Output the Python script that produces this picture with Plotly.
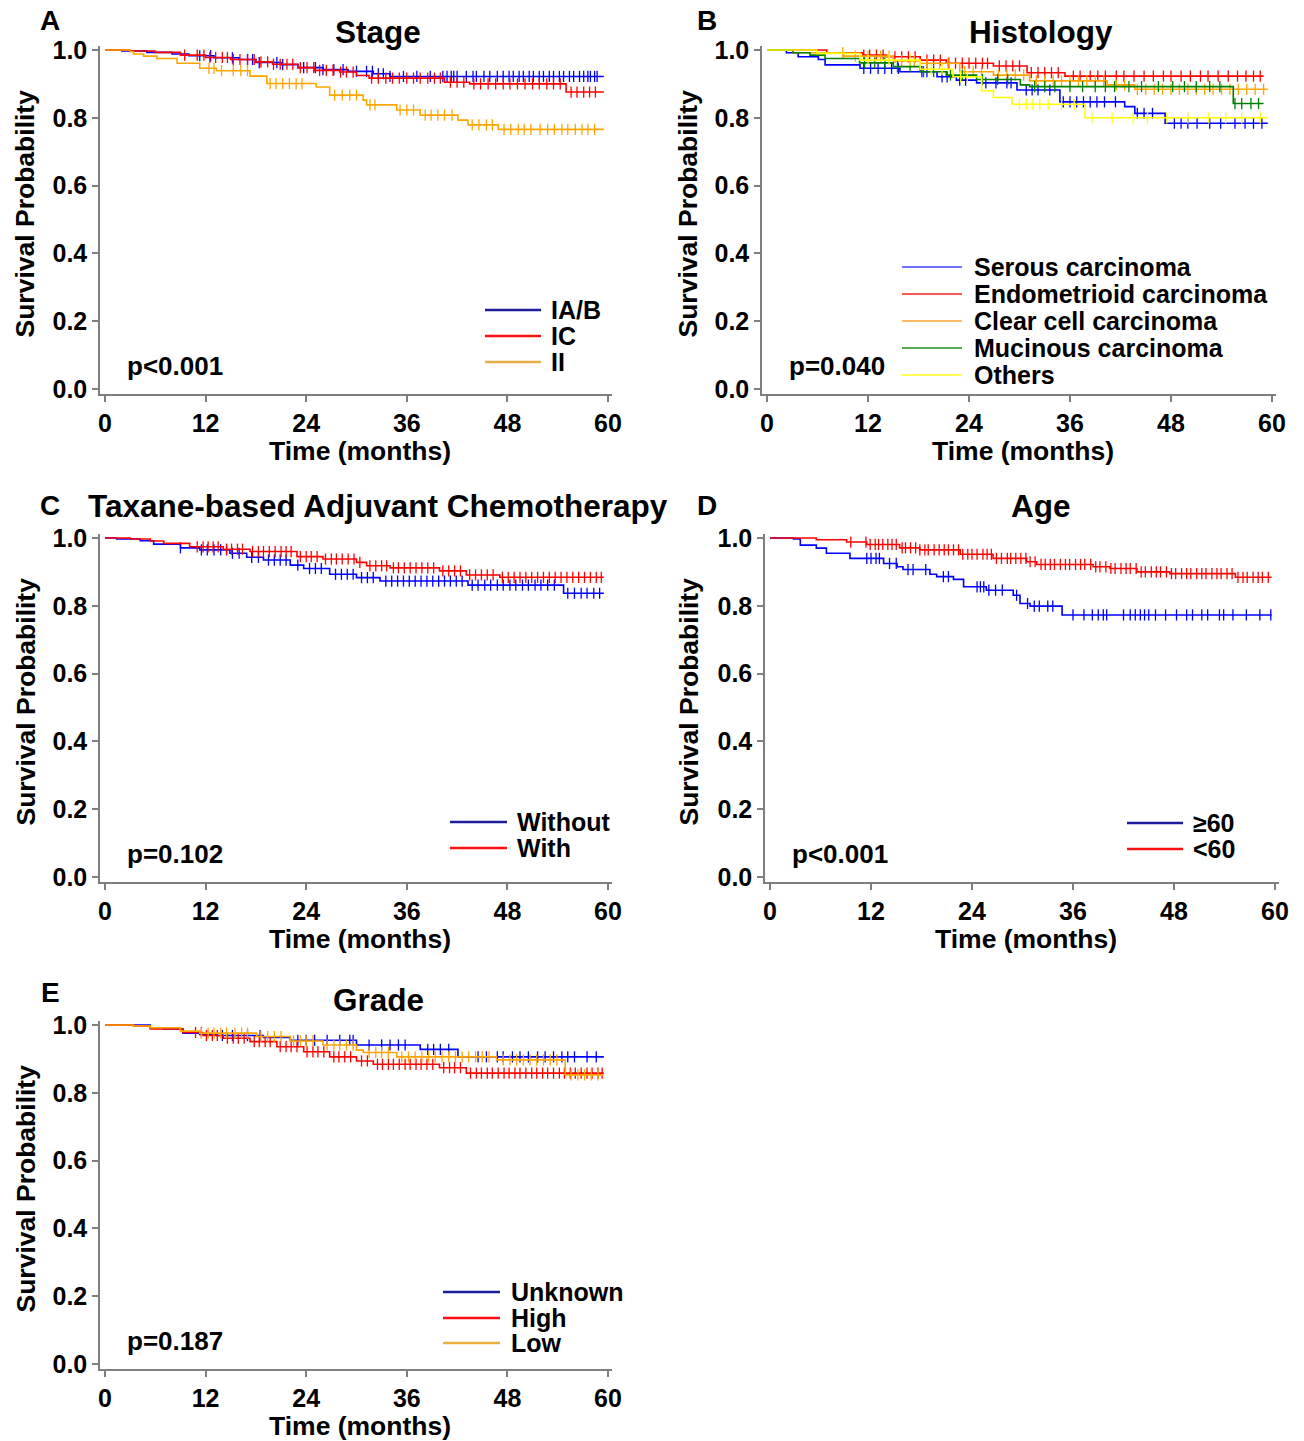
import bisect
import plotly.graph_objects as go

W, H = 1304, 1441

# ---------------- DATA ----------------
# Panel A: Stage
A_iab_t = [0, 2, 5, 8, 10, 13, 16, 18, 21, 23, 26, 29, 32, 34, 59.5]
A_iab_s = [1, .997, .993, .988, .983, .977, .972, .963, .957, .948, .942, .937, .930, .922, .922]
A_iab_c = [11.3, 12.6, 15.2, 17.0, 17.6, 18.4, 20.5, 21.2, 23.7, 25.1, 26.0, 27.3, 28.4, 30.0, 31.2, 31.9,
           32.6, 33.2, 34.0, 35.6, 37.2, 38.8, 40.3, 40.8, 41.3, 41.6, 42.0, 43.1, 43.9, 44.3, 45.2, 45.9,
           46.8, 47.5, 48.2, 48.7, 49.4, 49.9, 50.6, 51.1, 51.8, 52.3, 53.0, 53.5, 54.2, 54.7, 55.4, 55.9,
           56.6, 57.1, 57.6, 57.9, 58.4, 58.7]
A_ic_t = [0, 3, 6, 9, 12, 15, 18, 20, 23, 25, 28, 30, 31.5, 40.5, 43.5, 55, 59.5]
A_ic_s = [1, .997, .993, .985, .978, .972, .965, .958, .948, .940, .935, .925, .917, .905, .900, .876, .876]
A_ic_c = [9.5, 11.0, 11.8, 12.5, 13.2, 14.0, 14.6, 15.3, 16.1, 17.0, 17.8, 18.6, 19.4, 20.1, 20.9, 21.7,
          22.4, 23.3, 24.1, 24.9, 25.6, 26.4, 27.2, 28.1, 28.8, 29.6, 31.8, 32.6, 33.5, 34.3, 35.1, 36.0,
          36.8, 37.6, 38.5, 39.3, 40.0, 41.2, 42.0, 42.8, 44.0, 44.8, 45.7, 46.6, 47.5, 48.3, 49.2, 50.1,
          51.0, 51.8, 52.7, 53.5, 54.3, 55.6, 56.3, 57.1, 57.8, 58.5]
A_ii_t = [0, 3.0, 3.4, 4.6, 6.2, 8.6, 11.3, 13.3, 17.3, 19.3, 25.2, 26.8, 30.8, 31.2, 34.8, 37.6, 42.1, 43.3, 46.9, 59.5]
A_ii_s = [1, .995, .988, .982, .975, .961, .946, .939, .923, .901, .891, .867, .852, .838, .823, .808, .793, .779, .766, .766]
A_ii_c = [12.4, 13.0, 13.9, 15.3, 16.2, 17.0, 19.7, 20.4, 21.2, 22.0, 22.8, 23.5, 27.4, 28.3, 29.2, 30.0,
          31.6, 32.2, 35.2, 36.0, 36.8, 38.2, 38.9, 39.7, 40.5, 41.4, 43.8, 44.6, 45.5, 46.2, 47.6, 48.4,
          49.3, 50.0, 50.8, 51.9, 52.8, 53.6, 54.5, 55.2, 56.1, 56.9, 57.6, 58.4]

# Panel B: Histology
B_ser_t = [0, 2.3, 3.7, 6.1, 6.9, 11.05, 15.8, 20.2, 22.5, 24.9, 29.7, 34.8, 42.5, 43.7, 47.3, 59.5]
B_ser_s = [1, .992, .980, .972, .956, .946, .936, .921, .911, .903, .882, .847, .833, .813, .784, .784]
B_ser_c = [11.5, 12.3, 13.2, 14.0, 14.8, 15.6, 18.4, 19.0, 20.8, 21.4, 22.9, 23.6, 26.0, 27.2, 28.5, 29.0,
           30.8, 31.5, 32.2, 33.6, 35.2, 36.0, 36.8, 37.6, 38.4, 39.2, 40.1, 41.4, 44.0, 44.8, 45.8, 48.4,
           49.2, 50.0, 51.1, 52.6, 53.9, 55.6, 56.8, 57.8, 58.8]
B_endo_t = [0, 7.1, 11.4, 14.2, 18.2, 21.3, 26.9, 30.9, 35.4, 59]
B_endo_s = [1, .992, .985, .980, .970, .961, .953, .933, .923, .923]
B_endo_c = [11.5, 12.2, 13.0, 13.8, 15.2, 16.0, 16.8, 17.6, 19.0, 19.8, 20.6, 21.6, 22.4, 23.2, 24.0, 24.8,
            25.6, 26.2, 27.6, 28.4, 29.2, 30.0, 31.4, 32.2, 33.0, 33.8, 34.6, 36.4, 37.2, 38.4, 39.3, 40.2,
            41.5, 42.4, 43.6, 44.8, 45.9, 47.1, 48.0, 49.2, 50.3, 51.5, 52.4, 53.6, 54.8, 55.9, 56.9, 57.8, 58.6]
B_clear_t = [0, 3.1, 9.1, 15.0, 18.2, 22.9, 26.9, 31.2, 40.4, 43.7, 59.5]
B_clear_s = [1, .992, .982, .968, .961, .936, .926, .909, .897, .884, .884]
B_clear_c = [9.0, 10.5, 12.0, 13.5, 14.5, 16.0, 17.5, 19.0, 20.5, 21.5, 23.5, 24.5, 25.5, 27.5, 28.5, 29.5,
             30.5, 32.0, 33.0, 34.0, 35.0, 36.0, 37.0, 38.0, 39.0, 40.0, 41.5, 42.5, 44.0, 45.0, 46.0, 47.0,
             48.0, 49.0, 50.0, 51.0, 52.0, 53.0, 54.0, 55.0, 56.0, 57.0, 58.0, 59.0]
B_muc_t = [0, 3.1, 5.1, 6.9, 11.0, 15.0, 18.2, 21.3, 24.9, 30.1, 31.2, 55.4, 59]
B_muc_s = [1, .992, .985, .975, .962, .951, .936, .926, .913, .897, .892, .842, .842]
B_muc_c = [11.6, 12.8, 14.0, 15.5, 17.0, 18.6, 19.8, 21.8, 23.2, 25.6, 27.4, 28.6, 31.8, 33.0, 34.2, 36.0,
           37.5, 39.0, 40.2, 41.3, 43.0, 44.5, 46.5, 48.2, 49.6, 51.0, 52.6, 53.8, 55.6, 56.4, 57.5, 58.4]
B_oth_t = [0, 5.9, 11.05, 18.2, 22.1, 25.5, 26.9, 29.1, 37.8, 59.5]
B_oth_s = [1, .990, .970, .943, .921, .880, .860, .840, .800, .800]
B_oth_c = [12.0, 14.5, 17.0, 19.5, 20.8, 23.0, 23.8, 30.0, 30.8, 31.6, 32.4, 33.4, 35.0, 36.5, 38.6, 41.0,
           43.5, 45.2, 47.5, 50.0, 52.5, 54.5, 56.4, 58.6]

# Panel C: Taxane-based adjuvant chemotherapy
C_wo_t = [0, 1.4, 4.2, 5.8, 9.0, 11.3, 14.9, 16.9, 18.9, 22.1, 23.7, 26.8, 30.0, 32.8, 43.3, 54.7, 59.5]
C_wo_s = [1, .997, .992, .982, .971, .965, .955, .943, .935, .920, .910, .893, .883, .873, .861, .837, .837]
C_wo_c = [9.0, 11.5, 12.2, 13.0, 13.8, 14.5, 15.2, 16.0, 17.5, 18.3, 19.5, 20.2, 20.9, 21.6, 23.0, 24.4,
          25.1, 25.8, 27.5, 28.2, 28.9, 29.6, 30.6, 31.3, 32.0, 33.5, 34.2, 34.9, 35.6, 36.3, 37.0, 37.7,
          38.4, 39.1, 39.8, 40.5, 41.2, 41.9, 42.6, 43.8, 44.5, 45.3, 46.0, 46.8, 47.5, 48.3, 49.0, 49.8,
          50.5, 51.3, 52.0, 52.8, 53.6, 55.2, 56.0, 56.8, 57.5, 58.3, 59.0]
C_w_t = [0, 3.0, 5.4, 7.0, 10.1, 14.1, 17.3, 22.9, 26.0, 30.0, 31.2, 34.0, 39.9, 43.1, 47.1, 59.5]
C_w_s = [1, .997, .991, .984, .974, .967, .960, .945, .938, .928, .918, .912, .903, .891, .884, .884]
C_w_c = [11.0, 11.7, 12.3, 12.9, 13.5, 14.5, 15.1, 15.8, 16.4, 17.6, 18.3, 18.9, 19.6, 20.3, 21.0, 21.6,
         22.2, 23.3, 24.0, 24.6, 25.3, 26.3, 27.0, 27.6, 28.3, 29.0, 29.7, 30.4, 31.6, 32.3, 33.0, 33.6,
         34.4, 35.0, 35.7, 36.4, 37.1, 37.8, 38.5, 39.2, 40.3, 41.0, 41.7, 42.4, 43.5, 44.2, 44.9, 45.6,
         46.3, 47.4, 48.1, 48.8, 49.5, 50.2, 50.9, 51.6, 52.3, 53.0, 53.7, 54.4, 55.1, 55.8, 56.5, 57.2,
         57.9, 58.6, 59.2]

# Panel D: Age
D_ge_t = [0, 2.8, 3.6, 5.5, 6.7, 9.5, 13.5, 15.1, 15.8, 19.0, 19.8, 21.8, 23.0, 25.7, 28.9, 29.7, 30.9, 34.7, 59.6]
D_ge_s = [1, .997, .979, .970, .955, .940, .925, .915, .907, .893, .886, .878, .856, .846, .831, .807, .799, .773, .773]
D_ge_c = [11.5, 12.0, 12.6, 13.0, 14.2, 15.0, 16.4, 17.0, 18.5, 20.6, 21.2, 24.6, 25.0, 25.4, 26.0, 26.8,
          27.6, 29.3, 30.6, 31.4, 32.0, 33.0, 33.6, 36.0, 37.3, 38.3, 39.0, 39.6, 40.0, 42.0, 42.8, 43.4,
          44.0, 44.5, 45.0, 45.8, 47.0, 48.3, 49.5, 50.2, 51.3, 52.0, 53.4, 53.9, 55.0, 56.6, 58.2, 59.5]
D_lt_t = [0, 5.5, 9.1, 11.5, 15.4, 17.8, 22.6, 26.5, 30.5, 31.7, 38.4, 40.4, 43.6, 47.5, 55.3, 59.6]
D_lt_s = [1, .995, .988, .981, .971, .965, .952, .940, .930, .922, .915, .910, .900, .895, .884, .884]
D_lt_c = [9.6, 11.4, 11.9, 12.5, 12.9, 13.4, 14.0, 14.5, 15.0, 15.7, 16.1, 16.7, 17.3, 17.8, 18.4, 18.8,
          19.5, 20.1, 20.7, 21.2, 21.8, 22.4, 22.9, 23.5, 24.0, 24.6, 25.3, 25.8, 26.3, 26.9, 27.5, 28.2,
          28.6, 29.2, 29.8, 30.4, 30.9, 31.5, 32.2, 32.7, 33.3, 33.8, 34.5, 35.1, 35.6, 36.3, 36.9, 37.4,
          38.1, 38.7, 39.2, 39.9, 40.5, 41.0, 41.7, 42.3, 42.8, 43.5, 44.1, 44.6, 45.3, 45.9, 46.4, 47.1,
          47.7, 48.2, 48.9, 49.5, 50.0, 50.7, 51.3, 51.8, 52.5, 53.1, 53.6, 54.3, 54.9, 55.6, 56.2, 56.7,
          57.4, 58.0, 58.5, 59.2]

# Panel E: Grade
E_unk_t = [0, 5.4, 7.0, 9.3, 11.3, 13.3, 18.9, 22.1, 30.0, 37.6, 42.1, 59.5]
E_unk_s = [1, .992, .988, .976, .972, .969, .963, .955, .941, .928, .906, .906]
E_unk_c = [14.0, 15.2, 17.0, 18.5, 23.0, 24.0, 25.0, 26.5, 28.0, 29.2, 29.6, 31.5, 33.0, 34.0, 35.0, 35.8,
           38.5, 39.2, 40.0, 41.0, 44.5, 45.5, 46.8, 47.5, 48.6, 49.5, 50.5, 51.6, 52.5, 53.5, 54.5, 55.2,
           56.0, 57.5, 58.6]
E_high_t = [0, 3.4, 5.4, 9.3, 11.7, 14.1, 17.3, 20.5, 23.7, 26.8, 30.0, 32.0, 39.9, 43.1, 59.5]
E_high_s = [1, .997, .988, .978, .969, .961, .951, .936, .921, .906, .894, .884, .874, .858, .858]
E_high_c = [10.8, 11.5, 12.1, 12.8, 13.4, 14.6, 15.3, 15.9, 16.6, 17.8, 18.4, 19.1, 19.7, 20.9, 21.6, 22.2,
            22.9, 24.1, 24.8, 25.4, 26.1, 27.3, 27.9, 28.6, 29.3, 30.6, 31.3, 32.5, 33.1, 33.8, 34.4, 35.1,
            35.8, 36.4, 37.1, 37.7, 38.4, 39.1, 40.4, 41.1, 41.7, 42.4, 43.6, 44.3, 44.9, 45.6, 46.2, 46.9,
            47.6, 48.2, 48.9, 49.5, 50.2, 50.9, 51.5, 52.2, 52.8, 53.5, 54.2, 54.8, 55.5, 56.1, 56.8, 57.5,
            58.1, 58.8, 59.3]
E_low_t = [0, 3.4, 5.4, 9.0, 11.3, 18.1, 22.1, 26.0, 30.0, 30.8, 34.8, 46.7, 54.9, 59.5]
E_low_s = [1, .997, .992, .982, .976, .966, .953, .941, .926, .919, .906, .897, .853, .853]
E_low_c = [11.5, 12.3, 13.0, 13.8, 14.5, 15.5, 16.3, 17.0, 18.6, 19.4, 20.2, 21.0, 22.5, 23.3, 24.0, 24.8,
           26.5, 27.3, 28.0, 28.8, 29.6, 31.5, 32.3, 33.0, 33.8, 35.4, 36.2, 37.0, 37.8, 38.6, 39.4, 40.2,
           41.0, 41.8, 42.6, 43.4, 44.2, 45.0, 45.8, 47.5, 48.3, 49.1, 49.9, 50.7, 51.5, 52.3, 53.1, 53.9,
           55.6, 56.4, 57.2, 58.0, 58.8]

x_ticks = [0, 12, 24, 36, 48, 60]
y_ticks = [0, 0.2, 0.4, 0.6, 0.8, 1.0]
y_ticktext = ["0.0", "0.2", "0.4", "0.6", "0.8", "1.0"]

BLUE, RED, ORANGE, GREEN, YELLOW = "#0000ff", "#ff0000", "#ffa500", "#008000", "#ffff00"

# panel geometry in pixels: (x of 0, x of 60, y of 1.0, y of 0.0)
panels = {
    "A": dict(x0=105, x60=608, y1=50, y0=389),
    "B": dict(x0=767, x60=1272, y1=50, y0=389),
    "C": dict(x0=105, x60=608, y1=538, y0=877),
    "D": dict(x0=770, x60=1275, y1=538, y0=877),
    "E": dict(x0=105, x60=608, y1=1025, y0=1364),
}

series = {
    "A": [(A_iab_t, A_iab_s, A_iab_c, BLUE), (A_ic_t, A_ic_s, A_ic_c, RED), (A_ii_t, A_ii_s, A_ii_c, ORANGE)],
    "B": [(B_ser_t, B_ser_s, B_ser_c, BLUE), (B_endo_t, B_endo_s, B_endo_c, RED),
          (B_clear_t, B_clear_s, B_clear_c, ORANGE), (B_muc_t, B_muc_s, B_muc_c, GREEN),
          (B_oth_t, B_oth_s, B_oth_c, YELLOW)],
    "C": [(C_wo_t, C_wo_s, C_wo_c, BLUE), (C_w_t, C_w_s, C_w_c, RED)],
    "D": [(D_ge_t, D_ge_s, D_ge_c, BLUE), (D_lt_t, D_lt_s, D_lt_c, RED)],
    "E": [(E_unk_t, E_unk_s, E_unk_c, BLUE), (E_high_t, E_high_s, E_high_c, RED), (E_low_t, E_low_s, E_low_c, ORANGE)],
}

titles = {"A": "Stage", "B": "Histology", "C": "Taxane-based Adjuvant Chemotherapy", "D": "Age", "E": "Grade"}
pvals = {"A": "p<0.001", "B": "p=0.040", "C": "p=0.102", "D": "p<0.001", "E": "p=0.187"}

legends = {
    "A": dict(labels=["IA/B", "IC", "II"], colors=["#1c1c9c", "#ff1010", "#e6b040"], lx0=485, lx1=541, tx=550, ys=[310, 336, 362], w=2.5),
    "B": dict(labels=["Serous carcinoma", "Endometrioid carcinoma", "Clear cell carcinoma", "Mucinous carcinoma", "Others"],
              colors=["#4040ff", "#ff2020", "#ffa030", "#209020", "#ffff20"], lx0=902, lx1=962, tx=973, ys=[267, 294, 321, 348, 375], w=1.5),
    "C": dict(labels=["Without", "With"], colors=["#1c1c9c", "#ff1010"], lx0=450, lx1=507, tx=516, ys=[822, 848], w=2.5),
    "D": dict(labels=["\u226560", "<60"], colors=["#1c1c9c", "#ff1010"], lx0=1127, lx1=1183, tx=1192, ys=[823, 849], w=2.5),
    "E": dict(labels=["Unknown", "High", "Low"], colors=["#1c1c9c", "#ff1010", "#e6b040"], lx0=443, lx1=500, tx=510, ys=[1292, 1318, 1343], w=2.5),
}

FONT = "Liberation Sans, Arial, sans-serif"


def surv_at(ts, ss, t):
    i = bisect.bisect_right(ts, t) - 1
    return ss[max(i, 0)]


fig = go.Figure()
layout = dict(width=W, height=H, margin=dict(l=0, r=0, t=0, b=0, pad=0, autoexpand=False),
              paper_bgcolor="white", plot_bgcolor="white", showlegend=False, template="none")
annotations = []
shapes = []

for k, key in enumerate(["A", "B", "C", "D", "E"]):
    g = panels[key]
    pxm = (g["x60"] - g["x0"]) / 60.0
    pym = (g["y0"] - g["y1"])
    left_px, right_px = g["x0"] - 5, g["x60"] + 4
    top_px, bot_px = g["y1"] - 4, g["y0"] + 5
    xr = [(left_px - g["x0"]) / pxm, (right_px - g["x0"]) / pxm]
    yr = [-(bot_px - g["y0"]) / pym, 1 + (g["y1"] - top_px) / pym]
    n = "" if k == 0 else str(k + 1)
    xa, ya = "x" + n, "y" + n
    axis_common = dict(showline=True, linecolor="#7f7f7f", linewidth=1.5, ticks="outside", ticklen=6,
                       tickcolor="#7f7f7f", tickwidth=1.5, showgrid=False, zeroline=False, automargin=False,
                       tickfont=dict(family=FONT, size=25, color="black", weight=700))
    layout["xaxis" + n] = dict(domain=[left_px / W, right_px / W], range=xr, anchor=ya,
                               tickvals=x_ticks, ticktext=[str(v) for v in x_ticks], **axis_common)
    layout["yaxis" + n] = dict(domain=[1 - bot_px / H, 1 - top_px / H], range=yr, anchor=xa,
                               tickvals=y_ticks, ticktext=y_ticktext, **axis_common)

    for ts, ss, cs, col in series[key]:
        fig.add_trace(go.Scatter(x=ts, y=ss, mode="lines", line=dict(color=col, width=1.6, shape="hv"),
                                 xaxis=xa, yaxis=ya, hoverinfo="skip"))
        fig.add_trace(go.Scatter(x=cs, y=[surv_at(ts, ss, c) for c in cs], mode="markers",
                                 marker=dict(symbol="line-ns", size=8, line=dict(width=1.3, color=col)),
                                 xaxis=xa, yaxis=ya, hoverinfo="skip"))

    # title
    cx = 378 if key in ("A", "C", "E") else 1041
    ty = {"A": 32, "B": 32, "C": 506, "D": 506, "E": 1000}[key]
    annotations.append(dict(x=cx / W, y=1 - ty / H, xref="paper", yref="paper", text=titles[key],
                            showarrow=False, xanchor="center", yanchor="middle",
                            font=dict(family=FONT, size=31.5, color="black", weight=700)))
    # panel letter
    lx = 50 if key in ("A", "C", "E") else 707
    ly = {"A": 20, "B": 20, "C": 505, "D": 505, "E": 993}[key]
    annotations.append(dict(x=lx / W, y=1 - ly / H, xref="paper", yref="paper", text=key,
                            showarrow=False, xanchor="center", yanchor="middle",
                            font=dict(family=FONT, size=28, color="black", weight=700)))
    # y axis title
    ytx = 25 if key in ("A", "C", "E") else 688
    yty = (g["y1"] + g["y0"]) / 2 - 6
    annotations.append(dict(x=ytx / W, y=1 - yty / H, xref="paper", yref="paper", text="Survival Probability",
                            showarrow=False, textangle=-90, xanchor="center", yanchor="middle",
                            font=dict(family=FONT, size=26.5, color="black", weight=700)))
    # x axis title
    xtx = (g["x0"] + g["x60"]) / 2 + 3
    xty = g["y0"] + 62
    annotations.append(dict(x=xtx / W, y=1 - xty / H, xref="paper", yref="paper", text="Time (months)",
                            showarrow=False, xanchor="center", yanchor="middle",
                            font=dict(family=FONT, size=26.5, color="black", weight=700)))
    # p-value
    ppx = g["x0"] + 20
    ppy = g["y0"] - 23
    annotations.append(dict(x=ppx / W, y=1 - ppy / H, xref="paper", yref="paper", text=pvals[key],
                            showarrow=False, xanchor="left", yanchor="middle",
                            font=dict(family=FONT, size=26, color="black", weight=700)))
    # legend
    lg = legends[key]
    for lab, col, yy in zip(lg["labels"], lg["colors"], lg["ys"]):
        shapes.append(dict(type="line", xref="paper", yref="paper", x0=lg["lx0"] / W, x1=lg["lx1"] / W,
                           y0=1 - yy / H, y1=1 - yy / H, line=dict(color=col, width=lg["w"])))
        annotations.append(dict(x=lg["tx"] / W, y=1 - yy / H, xref="paper", yref="paper", text=lab,
                                showarrow=False, xanchor="left", yanchor="middle", borderpad=0,
                                font=dict(family=FONT, size=25, color="black", weight=700)))

layout["annotations"] = annotations
layout["shapes"] = shapes
fig.update_layout(**layout)
fig.write_html("out.html", config={"displayModeBar": False},
               post_script="document.body.style.margin='0px';document.body.style.overflow='hidden';")
